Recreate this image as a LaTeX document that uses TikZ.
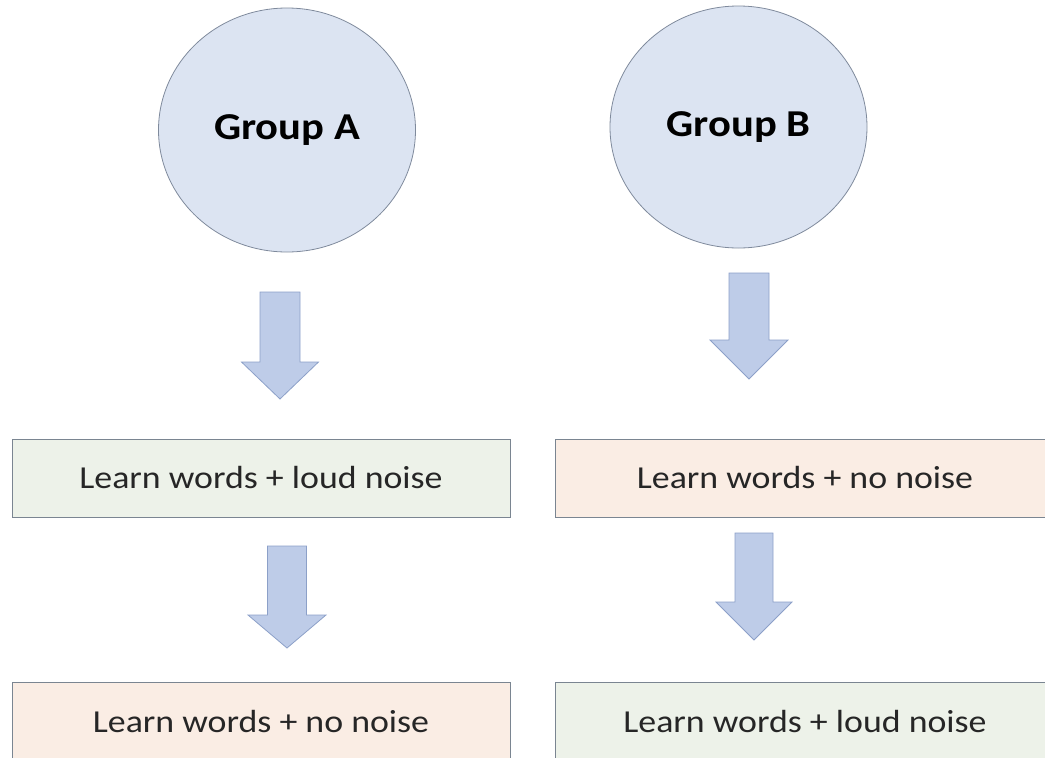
\documentclass[tikz,border=0pt]{standalone}
\usepackage{fontspec}
\setmainfont{Carlito}[FakeStretch=1.12]
\usetikzlibrary{shapes.geometric}

\definecolor{circlefill}{HTML}{DCE4F2}
\definecolor{circleline}{HTML}{7F8A9C}
\definecolor{arrowfill}{HTML}{BECCE8}
\definecolor{arrowline}{HTML}{8CA0C8}
\definecolor{greenfill}{HTML}{EDF2E9}
\definecolor{peachfill}{HTML}{FAEDE4}
\definecolor{boxline}{HTML}{7A8591}
\definecolor{textgrey}{HTML}{262626}

% block arrow: top point, shaft half width, head half width, head start, tip
\newcommand{\blockarrow}[5]{%
	\draw[arrowbody] (#1) ++(-#2,0) -- ++(2*#2,0) -- ++(0,#4) -- ++(#3-#2,0)
		-- ++(-#3,#5-#4) -- ++(-#3,#4-#5) -- ++(#3-#2,0) -- cycle;}

\begin{document}
\begin{tikzpicture}[
					x=1pt, y=-1pt,
					group/.style={ellipse,draw=circleline,fill=circlefill,line width=0.8pt,
						minimum width=257,minimum height=244,inner sep=0pt,
						font=\fontsize{38}{40}\selectfont\bfseries},
					task/.style={rectangle,draw=boxline,line width=1pt,
						minimum width=498,minimum height=78,inner sep=0pt,
						text=textgrey,font=\fontsize{32}{36}\selectfont},
					arrowbody/.style={draw=arrowline,fill=arrowfill,line width=0.8pt,line join=miter}
					]

					\useasboundingbox (0,0) rectangle (1045,758);
					\clip (0,0) rectangle (1045,758);

					% groups
					\node[group] (grpA) at (287,130) {Group A};
					\node[group,minimum height=242] (grpB) at (738.5,127) {Group B};

					% first session
					\node[task,fill=greenfill] (A1) at (261,478) {Learn words + loud noise};
					\node[task,fill=peachfill,minimum width=500] (B1) at (805,478) {Learn words + no noise};

					% second session
					\node[task,fill=peachfill] (A2) at (261,721) {Learn words + no noise};
					\node[task,fill=greenfill,minimum width=500] (B2) at (805,721) {Learn words + loud noise};

					% arrows
					\coordinate (arrA1) at (280,292);
					\coordinate (arrB1) at (749,273);
					\coordinate (arrA2) at (287,546);
					\coordinate (arrB2) at (754,533);
					\blockarrow{arrA1}{20}{38.5}{70}{107}
					\blockarrow{arrB1}{20}{39}{67}{106}
					\blockarrow{arrA2}{19.5}{39}{69}{102}
					\blockarrow{arrB2}{19}{38}{69}{107}

				\end{tikzpicture}
\end{document}
